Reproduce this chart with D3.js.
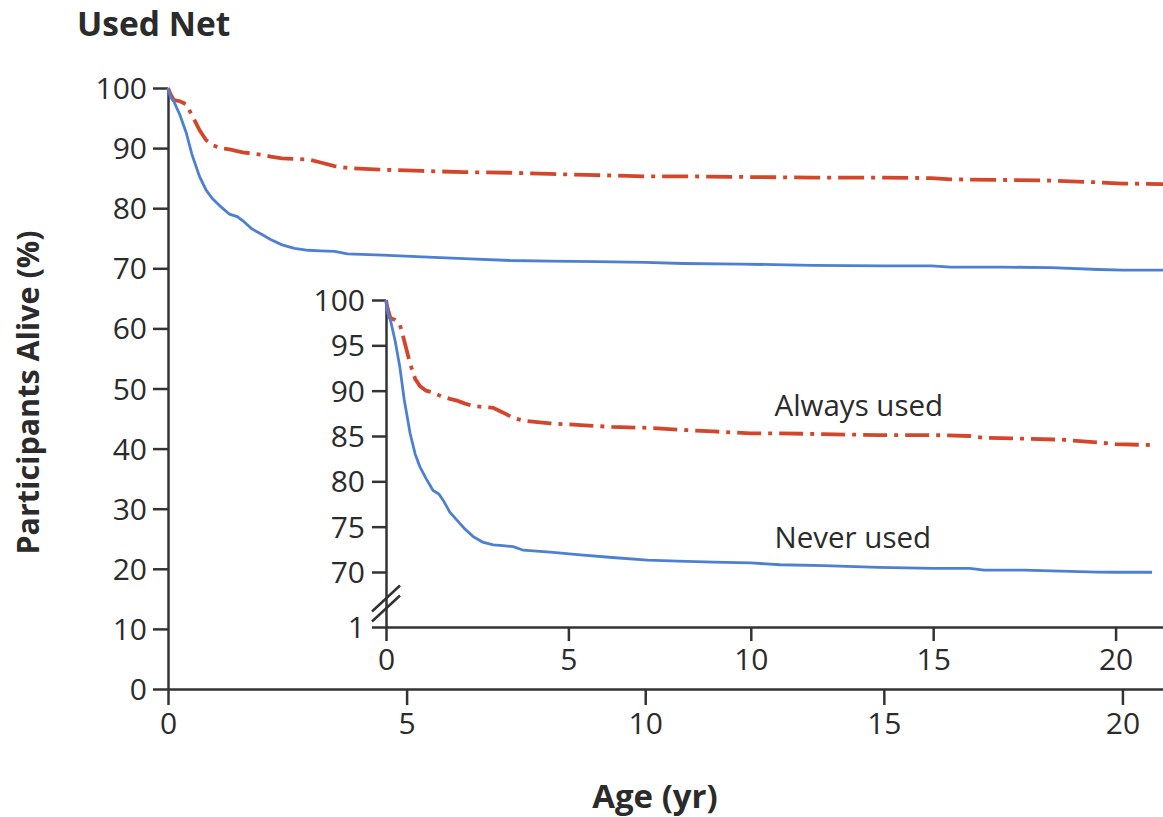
<!DOCTYPE html>
<html>
<head>
<meta charset="utf-8">
<script src="https://cdn.jsdelivr.net/npm/d3@7"></script>
<style>
  body { margin: 0; background: #fff; }
  svg text { font-family: "Open Sans", "Noto Sans", sans-serif; fill: #2b2b2b; }
  .axis path, .axis line { stroke: #333; stroke-width: 2.5; }
  .axis text { font-size: 30px; }
</style>
</head>
<body>
<svg id="chart" width="1163" height="817"></svg>
<script>
"use strict";

// Kaplan-Meier style survival (age in years, % alive)
const ages = [0, 0.05, 0.12, 0.25, 0.38, 0.5, 0.66, 0.8, 0.93, 1.1, 1.29, 1.45, 1.57, 1.75,
  1.95, 2.15, 2.39, 2.65, 2.94, 3.2, 3.49, 3.76, 4.5, 5.33, 6.2, 7.17, 8.0, 8.98, 10.0,
  10.8, 12.0, 13.5, 15.0, 16.0, 16.4, 17.5, 18.5, 19.5, 20.0, 21.0];
const neverUsed = [100, 98.5, 97.8, 95.5, 92.6, 89, 85.3, 83, 81.6, 80.3, 79, 78.6, 77.9, 76.6,
  75.7, 74.8, 73.9, 73.3, 73.0, 72.9, 72.8, 72.4, 72.2, 71.9, 71.6, 71.3, 71.2, 71.1, 71.0,
  70.8, 70.7, 70.5, 70.4, 70.4, 70.2, 70.2, 70.1, 69.8, 69.7, 69.7];
const alwaysUsed = [100, 99, 98, 97.8, 97.3, 95.5, 93, 91.3, 90.5, 90, 89.8, 89.5, 89.3, 89.1,
  88.9, 88.6, 88.3, 88.2, 88.1, 87.6, 87.0, 86.7, 86.4, 86.2, 86.0, 85.9, 85.7, 85.5, 85.3,
  85.3, 85.2, 85.1, 85.1, 85.0, 84.8, 84.7, 84.6, 84.3, 84.1, 84.0];

const mainYTicks = [0, 10, 20, 30, 40, 50, 60, 70, 80, 90, 100];
const mainXTicks = [0, 5, 10, 15, 20];
const insetYTicks = [1, 70, 75, 80, 85, 90, 95, 100];
const insetXTicks = [0, 5, 10, 15, 20];

const series = [
  { name: "Always used", values: alwaysUsed, color: "#d4462b", width: 3.8, dash: "26,7,4,7", labelAge: 10.65, labelVal: 87.2 },
  { name: "Never used", values: neverUsed, color: "#4d80d2", width: 2.8, dash: null, labelAge: 10.65, labelVal: 72.6 }
];

const svg = d3.select('#chart');

// main panel scales
const x = d3.scaleLinear().domain([0, 20.85]).range([168, 1163]);
const y = d3.scaleLinear().domain([0, 100]).range([689, 88]);

// inset scales (broken y axis: 1 sits below the break)
const xIn = d3.scaleLinear().domain([0, 21.3]).range([386, 1163]);
const yIn = d3.scaleLinear().domain([1, 70, 100]).range([627, 572, 300]);

// title
svg.append('text')
  .attr('x', 77).attr('y', 36)
  .attr('font-size', 33.5).attr('font-weight', 700)
  .text('Used Net');

// main axes
svg.append('g').attr('class', 'axis')
  .attr('transform', `translate(${x(0)},0)`)
  .call(d3.axisLeft(y).tickValues(mainYTicks).tickSize(15).tickSizeOuter(0).tickPadding(6))
  .call(g => g.selectAll('text').attr('dy', '0.35em'));

svg.append('g').attr('class', 'axis')
  .attr('transform', `translate(0,${y(0)})`)
  .call(d3.axisBottom(x).tickValues(mainXTicks).tickSize(16).tickSizeOuter(0).tickPadding(8));

svg.append('text')
  .attr('transform', `translate(39,${(y(0) + y(100)) / 2 + 4}) rotate(-90)`)
  .attr('text-anchor', 'middle')
  .attr('font-size', 30.5).attr('font-weight', 700)
  .text('Participants Alive (%)');

svg.append('text')
  .attr('x', 655).attr('y', 808)
  .attr('text-anchor', 'middle')
  .attr('font-size', 33).attr('font-weight', 700)
  .text('Age (yr)');

// main curves
const line = d3.line()
  .x((d, i) => x(ages[i]))
  .y(d => y(d))
  .curve(d3.curveLinear);

svg.selectAll('path.main').data(series)
  .enter()
  .append('path')
  .attr('class', 'main')
  .attr('fill', 'none')
  .attr('stroke', d => d.color)
  .attr('stroke-width', d => d.width)
  .attr('stroke-dasharray', d => d.dash)
  .attr('d', d => line(d.values));

// inset axes
svg.append('g').attr('class', 'axis')
  .attr('transform', `translate(${xIn(0)},0)`)
  .call(d3.axisLeft(yIn).tickValues(insetYTicks).tickSize(14).tickSizeOuter(0).tickPadding(7))
  .call(g => g.selectAll('text').attr('dy', '0.35em').attr('font-size', 28));

svg.append('g').attr('class', 'axis')
  .attr('transform', `translate(0,${yIn(1)})`)
  .call(d3.axisBottom(xIn).tickValues(insetXTicks).tickSize(14).tickSizeOuter(0).tickPadding(8))
  .call(g => g.selectAll('text').attr('font-size', 28));

// axis break marks
const breakY = (yIn(1) + yIn(70)) / 2 + 4;
svg.selectAll('line.brk').data([-5, 5])
  .enter()
  .append('line')
  .attr('class', 'brk')
  .attr('x1', xIn(0) - 14).attr('y1', d => breakY + d + 13)
  .attr('x2', xIn(0) + 14).attr('y2', d => breakY + d - 13)
  .attr('stroke', '#333').attr('stroke-width', 2.5);

// inset curves
const lineIn = d3.line()
  .x((d, i) => xIn(ages[i]))
  .y(d => yIn(d))
  .curve(d3.curveLinear);

svg.selectAll('path.inset').data(series)
  .enter()
  .append('path')
  .attr('class', 'inset')
  .attr('fill', 'none')
  .attr('stroke', d => d.color)
  .attr('stroke-width', d => d.width)
  .attr('stroke-dasharray', d => d.dash ? "24,7,4,7" : null)
  .attr('d', d => lineIn(d.values));

// series labels
svg.selectAll('text.lbl').data(series)
  .enter()
  .append('text')
  .attr('class', 'lbl')
  .attr('x', d => xIn(d.labelAge))
  .attr('y', d => yIn(d.labelVal))
  .attr('font-size', 29.5)
  .text(d => d.name);
</script>
</body>
</html>
